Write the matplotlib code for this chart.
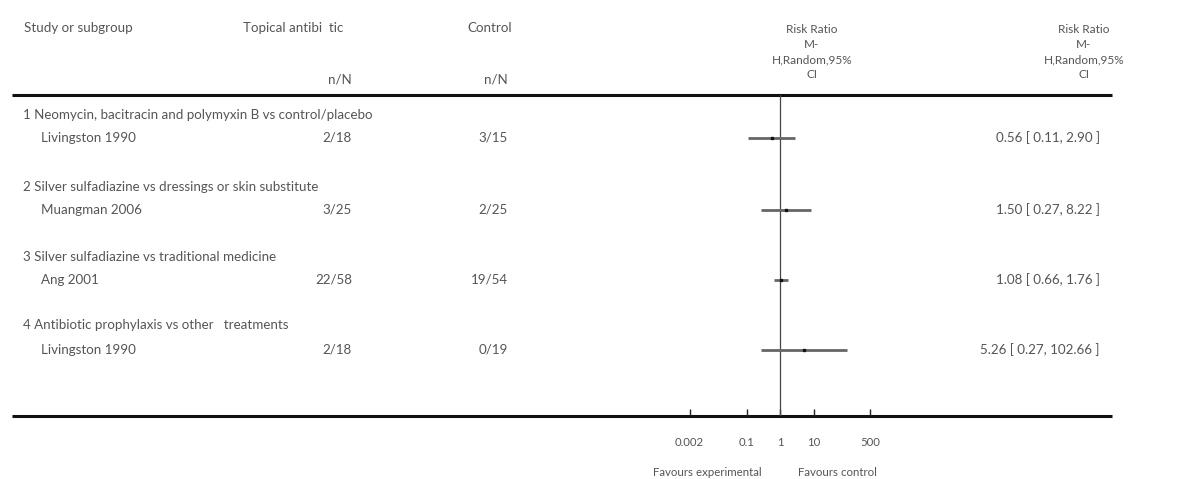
import numpy as np
import matplotlib.pyplot as plt

# data
subgroups = ["1 Neomycin, bacitracin and polymyxin B vs control/placebo",
             "2 Silver sulfadiazine vs dressings or skin substitute",
             "3 Silver sulfadiazine vs traditional medicine",
             "4 Antibiotic prophylaxis vs other   treatments"]
studies = ["Livingston 1990", "Muangman 2006", "Ang 2001", "Livingston 1990"]
treat_nN = ["2/18", "3/25", "22/58", "2/18"]
control_nN = ["3/15", "2/25", "19/54", "0/19"]
rr = [0.56, 1.50, 1.08, 5.26]
ci_low = [0.11, 0.27, 0.66, 0.27]
ci_high = [2.90, 8.22, 1.76, 102.66]
tick_vals = [0.002, 0.1, 1, 10, 500]
tick_labels = ["0.002", "0.1", "1", "10", "500"]

W, H = 1192, 479
plt.rcParams['font.family'] = ['Lato', 'DejaVu Sans']
txt = '#555555'
fs = 9.6

fig = plt.figure(figsize=(W / 100, H / 100), dpi=100)
bg = fig.add_axes([0, 0, 1, 1])
bg.set_xlim(0, W)
bg.set_ylim(H, 0)
bg.axis('off')

# header
bg.text(24, 28, "Study or subgroup", fontsize=fs, color=txt, va='center')
bg.text(343, 28, "Topical antibi  tic", fontsize=fs, color=txt, va='center', ha='right')
bg.text(512, 28, "Control", fontsize=fs, color=txt, va='center', ha='right')
bg.text(352, 79, "n/N", fontsize=fs, color=txt, va='center', ha='right')
bg.text(508, 79, "n/N", fontsize=fs, color=txt, va='center', ha='right')
hdr = "Risk Ratio\nM-\nH,Random,95%\nCI"
bg.text(812, 52, hdr, fontsize=8.5, color=txt, va='center', ha='center', linespacing=1.45)
bg.text(1084, 52, hdr, fontsize=8.5, color=txt, va='center', ha='center', linespacing=1.45)

# horizontal rules
bg.plot([12, 1112], [95, 95], color='#111111', lw=2.2, solid_capstyle='butt')
bg.plot([12, 1112], [416, 416], color='#111111', lw=2.2, solid_capstyle='butt')

# rows
head_y = [115, 187, 257, 325]
row_y = [138, 210, 280, 350]
for i in range(len(studies)):
    bg.text(23, head_y[i], subgroups[i], fontsize=fs, color=txt, va='center')
    bg.text(41, row_y[i], studies[i], fontsize=fs, color=txt, va='center')
    bg.text(352, row_y[i], treat_nN[i], fontsize=fs, color=txt, va='center', ha='right')
    bg.text(508, row_y[i], control_nN[i], fontsize=fs, color=txt, va='center', ha='right')
    bg.text(1100, row_y[i], f"{rr[i]:.2f} [ {ci_low[i]:.2f}, {ci_high[i]:.2f} ]",
            fontsize=fs, color=txt, va='center', ha='right')

# forest panel: 33.5 px per decade, x=1 at pixel 780
left_px, right_px = 660, 900
dec = 33.5
fa = fig.add_axes([left_px / W, 1 - 416 / H, (right_px - left_px) / W, (416 - 95) / H])
fa.patch.set_alpha(0)
fa.set_xscale('log')
fa.set_xlim(10 ** ((left_px - 780) / dec), 10 ** ((right_px - 780) / dec))
fa.set_ylim(416, 95)
for s in fa.spines.values():
    s.set_visible(False)
fa.set_yticks([])
fa.set_xticks(tick_vals)
fa.set_xticklabels(tick_labels)
fa.xaxis.set_minor_locator(plt.NullLocator())
fa.tick_params(axis='x', direction='in', length=5, width=1, color='#222222',
               labelsize=8.2, labelcolor=txt, pad=15)
fa.axvline(1, color='#444444', lw=0.9)

for i in range(len(rr)):
    fa.plot([ci_low[i], ci_high[i]], [row_y[i], row_y[i]], color='#666666', lw=2,
            solid_capstyle='butt')
    fa.plot(rr[i], row_y[i], marker='s', ms=1.8, color='#111111')

bg.text(707, 472, "Favours experimental", fontsize=8.3, color=txt, va='center', ha='center')
bg.text(837, 472, "Favours control", fontsize=8.3, color=txt, va='center', ha='center')

fig.savefig('out.png', dpi=100)
